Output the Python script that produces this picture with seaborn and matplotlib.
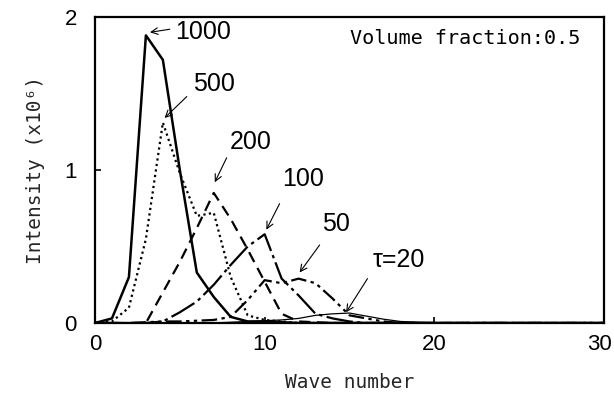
import numpy as np
import pandas as pd
import matplotlib
matplotlib.use("Agg")
import matplotlib.pyplot as plt
import matplotlib.transforms as mtransforms
import seaborn as sns

wave = list(range(0, 31))
tau1000 = [0, 0.03, 0.30, 1.88, 1.72, 1.00, 0.33, 0.17, 0.04, 0.01, 0.01, 0.005] + [0] * 19
tau500 = [0, 0.01, 0.10, 0.55, 1.31, 0.98, 0.70, 0.72, 0.30, 0.05, 0.02, 0.01] + [0] * 19
tau200 = [0, 0, 0, 0.0, 0.20, 0.40, 0.62, 0.85, 0.68, 0.48, 0.27, 0.06, 0.01, 0.005] + [0] * 17
tau100 = [0, 0, 0, 0, 0.01, 0.07, 0.14, 0.25, 0.38, 0.50, 0.58, 0.29, 0.18, 0.06, 0.03, 0.01] + [0] * 15
tau50 = [0, 0, 0, 0.005, 0.01, 0.01, 0.015, 0.02, 0.04, 0.15, 0.28, 0.26, 0.29, 0.26, 0.16, 0.05, 0.03, 0.01] + [0] * 13
tau20 = [0, 0, 0, 0, 0, 0, 0, 0, 0.005, 0.01, 0.015, 0.02, 0.03, 0.05, 0.06, 0.065, 0.045, 0.025, 0.01, 0.005] + [0] * 11

labels = ["1000", "500", "200", "100", "50", "τ=20"]
series = [tau1000, tau500, tau200, tau100, tau50, tau20]
styles = ["-", (0, (1, 1.5)), (0, (5, 3)), (0, (12, 2, 1.5, 2)), (0, (7, 2, 1.5, 2, 1.5, 2)), "-"]
widths = [1.8, 1.6, 1.6, 1.6, 1.6, 0.9]

sns.set_theme(style="ticks")
plt.rcParams['font.family'] = ['Liberation Sans', 'DejaVu Sans']

fig = plt.figure(figsize=(6.14, 3.99), dpi=100)
ax = fig.add_axes([95 / 614, (399 - 323) / 399, (604 - 95) / 614, (323 - 17) / 399])

for s, ls, lw in zip(series, styles, widths):
    sns.lineplot(x=wave, y=s, ax=ax, color="black", linestyle=ls, linewidth=lw)

ax.set_xlim(0, 30)
ax.set_ylim(0, 2)
ax.set_xticks([0, 10, 20, 30])
ax.set_yticks([0, 1, 2])
ax.tick_params(direction="in", length=4, width=1.2, labelsize=16, colors="black")
ax.tick_params(axis="x", pad=8)
ax.tick_params(axis="y", pad=13)
for sp in ax.spines.values():
    sp.set_linewidth(1.6)
    sp.set_color("black")

fig.canvas.draw()
last = ax.get_xticklabels()[-1]
last.set_transform(last.get_transform() + mtransforms.ScaledTranslation(-5 / 100, 0, fig.dpi_scale_trans))

mono = ['DejaVu Sans Mono']
ax.set_xlabel("Wave number", family=mono, fontsize=14, labelpad=13)
ax.set_ylabel("Intensity (x10⁶)", family=mono, fontsize=14, labelpad=14)

ax.text(0.953, 0.931, "Volume fraction:0.5", transform=ax.transAxes, family=mono,
        fontsize=14.5, ha="right", va="center", color="black")

ann = [
    ("1000", (4.7, 1.90), (3.24, 1.90)),
    ("500", (5.76, 1.56), (4.1, 1.34)),
    ("200", (7.94, 1.18), (7.06, 0.92)),
    ("100", (11.0, 0.94), (10.1, 0.61)),
    ("50", (13.4, 0.65), (12.06, 0.33)),
    ("τ=20", (16.35, 0.41), (14.8, 0.07)),
]
arrow_starts = [(4.41, 1.92), (5.41, 1.48), (7.76, 1.08), (10.88, 0.78), (13.24, 0.51), (16.06, 0.29)]
for (txt, tpos, apos), st in zip(ann, arrow_starts):
    ax.text(tpos[0], tpos[1], txt, fontsize=18, ha="left", va="center", color="black")
    ax.annotate("", xy=apos, xytext=st,
                arrowprops=dict(arrowstyle="->", color="black", lw=0.8, shrinkA=0, shrinkB=0))

fig.savefig("out.png", dpi=100)
